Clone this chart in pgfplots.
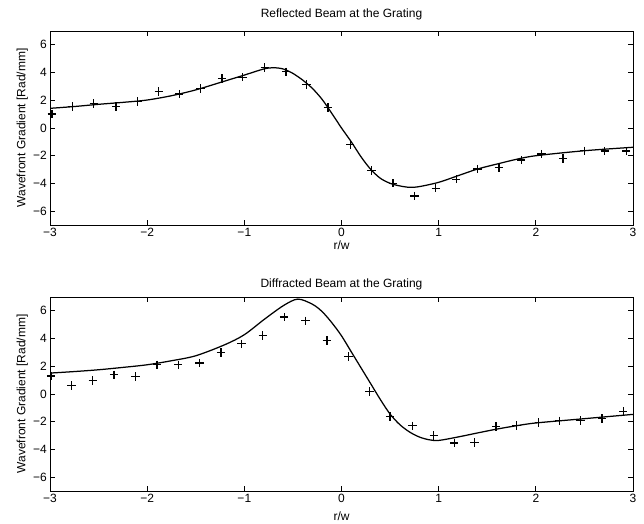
\documentclass[border=0pt]{standalone}
\usepackage{fontspec}
\setmainfont{Liberation Sans}
\usepackage{pgfplots}
\pgfplotsset{compat=1.18}
\begin{document}
\fontsize{12pt}{14pt}\selectfont
\begin{tikzpicture}
\useasboundingbox (0,0) rectangle (644pt,523pt);
\pgfplotsset{
  myax/.style={
    scale only axis, width=583pt, height=194pt,
    xmin=-3, xmax=3, ymin=-7, ymax=7,
    xtick={-3,-2,-1,0,1,2,3},
    xticklabels={−3,−2,−1,0,1,2,3},
    ytick={-6,-4,-2,0,2,4,6},
    yticklabels={−6,−4,−2,0,2,4,6},
    tick align=inside, major tick length=5pt,
    axis line style={line width=0.9pt},
    every tick/.style={line width=0.9pt, black},
    tick label style={font=\fontsize{12pt}{14pt}\selectfont},
    label style={font=\fontsize{12pt}{14pt}\selectfont},
    title style={font=\fontsize{12pt}{14pt}\selectfont},
    xlabel={r/w}, ylabel={Wavefront Gradient [Rad/mm]},
    ylabel style={yshift=-3pt},
    xticklabel style={yshift=1pt},
    yticklabel style={xshift=1pt},
  },
  curve/.style={black, line width=1.25pt, smooth, no markers},
  pts/.style={black, only marks, mark=+, mark size=4.2pt, line width=1.3pt},
}
\begin{axis}[myax, at={(50pt,298pt)}, anchor=south west, title={Reflected Beam at the Grating},
  title style={yshift=1pt}, xlabel style={yshift=4pt}]
\addplot[curve] coordinates {
(-3,1.42) (-2.75,1.55) (-2.5,1.71) (-2.25,1.85) (-2,2.02) (-1.75,2.33) (-1.5,2.75) (-1.2,3.39) (-1.0,3.82)
(-0.8,4.26) (-0.7,4.35) (-0.6,4.26) (-0.5,3.94) (-0.4,3.46) (-0.3,2.86)
(-0.2,2.07) (-0.1,1.06) (0,0.0) (0.1,-0.99) (0.2,-2.07) (0.3,-2.98)
(0.4,-3.63) (0.5,-3.99) (0.6,-4.18) (0.7,-4.28) (0.8,-4.23) (1.0,-3.92)
(1.2,-3.44) (1.4,-2.96) (1.6,-2.60) (1.8,-2.26) (2.0,-2.0) (2.5,-1.64) (3.0,-1.39)
};
\addplot[pts] coordinates {
(-2.98,1.0) (-2.77,1.54) (-2.55,1.78) (-2.32,1.54) (-2.10,1.90) (-1.88,2.62)
(-1.67,2.45) (-1.45,2.86) (-1.23,3.58) (-1.02,3.66) (-0.79,4.38) (-0.57,4.06)
(-0.36,3.15) (-0.14,1.49) (0.09,-1.18) (0.31,-3.08) (0.53,-3.99) (0.75,-4.91)
(0.97,-4.35) (1.18,-3.70) (1.40,-2.96) (1.62,-2.86) (1.85,-2.31) (2.06,-1.88)
(2.28,-2.19) (2.50,-1.64) (2.71,-1.66) (2.93,-1.66)
};
\end{axis}
\begin{axis}[myax, at={(50pt,32pt)}, anchor=south west, title={Diffracted Beam at the Grating},
  title style={yshift=-3pt}, xlabel style={yshift=-1pt}]
\addplot[curve] coordinates {
(-3,1.51) (-2.75,1.62) (-2.5,1.75) (-2.25,1.92) (-2,2.11) (-1.75,2.40) (-1.5,2.76) (-1.2,3.56)
(-1.0,4.28) (-0.8,5.36) (-0.6,6.37) (-0.45,6.85) (-0.3,6.48) (-0.2,5.95)
(-0.1,5.15) (0,4.2) (0.1,3.05) (0.2,1.9) (0.3,0.75) (0.4,-0.4)
(0.5,-1.45) (0.6,-2.21) (0.7,-2.74) (0.8,-3.10) (0.9,-3.30) (1.0,-3.35)
(1.2,-3.10) (1.4,-2.81) (1.6,-2.53) (1.8,-2.29) (2.0,-2.09) (2.5,-1.78) (3.0,-1.47)
};
\addplot[pts] coordinates {
(-2.99,1.30) (-2.78,0.60) (-2.56,0.98) (-2.34,1.39) (-2.12,1.27) (-1.90,2.11)
(-1.68,2.11) (-1.46,2.24) (-1.24,3.00) (-1.03,3.63) (-0.81,4.21) (-0.59,5.56)
(-0.37,5.29) (-0.15,3.87) (0.07,2.71) (0.29,0.19) (0.50,-1.62) (0.73,-2.29)
(0.95,-2.98) (1.16,-3.54) (1.37,-3.49) (1.59,-2.34) (1.80,-2.26) (2.03,-2.05)
(2.24,-1.93) (2.46,-1.90) (2.68,-1.78) (2.90,-1.25)
};
\end{axis}
\end{tikzpicture}
\end{document}
